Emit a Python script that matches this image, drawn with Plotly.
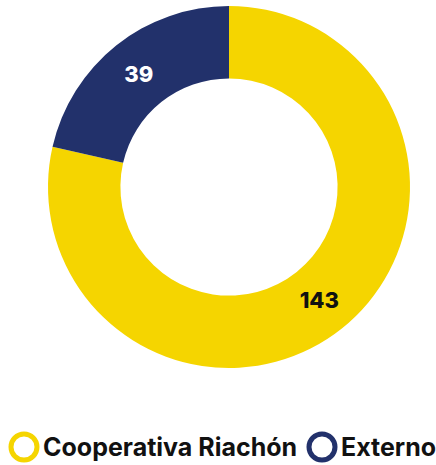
import plotly.graph_objects as go

# Distribution of members by origin
labels = ["Cooperativa Riachón", "Externo"]
values = [143, 39]
colors = ["#F5D500", "#22316B"]
text_colors = ["#111111", "#FFFFFF"]

W, H = 436, 465
FONT = "Inter"

fig = go.Figure()

fig.add_trace(go.Pie(
    labels=labels,
    values=values,
    hole=0.6,
    sort=False,
    direction="clockwise",
    rotation=0,
    marker=dict(colors=colors, line=dict(width=0)),
    textinfo="value",
    textposition="inside",
    insidetextorientation="horizontal",
    textfont=dict(family=FONT, size=22, color=text_colors, weight=800),
    showlegend=False,
    domain=dict(x=[48 / W, 410 / W], y=[1 - 368 / H, 1 - 6 / H]),
))

# Legend: open ring markers followed by the category names
legend_y = 447
ring_r = 13
ring_x = [24, 322]
text_x = [41, 339]
for name, col, cx, tx in zip(labels, colors, ring_x, text_x):
    fig.add_shape(
        type="circle", xref="paper", yref="paper",
        x0=(cx - ring_r) / W, x1=(cx + ring_r) / W,
        y0=1 - (legend_y + ring_r) / H, y1=1 - (legend_y - ring_r) / H,
        line=dict(color=col, width=5), fillcolor="rgba(0,0,0,0)",
    )
    fig.add_annotation(
        text=name, xref="paper", yref="paper",
        x=tx / W, y=1 - legend_y / H, xanchor="left", yanchor="middle",
        showarrow=False,
        font=dict(family=FONT, size=25, color="#111111", weight=700),
    )

fig.update_layout(
    width=W, height=H,
    margin=dict(l=0, r=0, t=0, b=0),
    paper_bgcolor="white",
    plot_bgcolor="white",
)

fig.write_html("out.html")
